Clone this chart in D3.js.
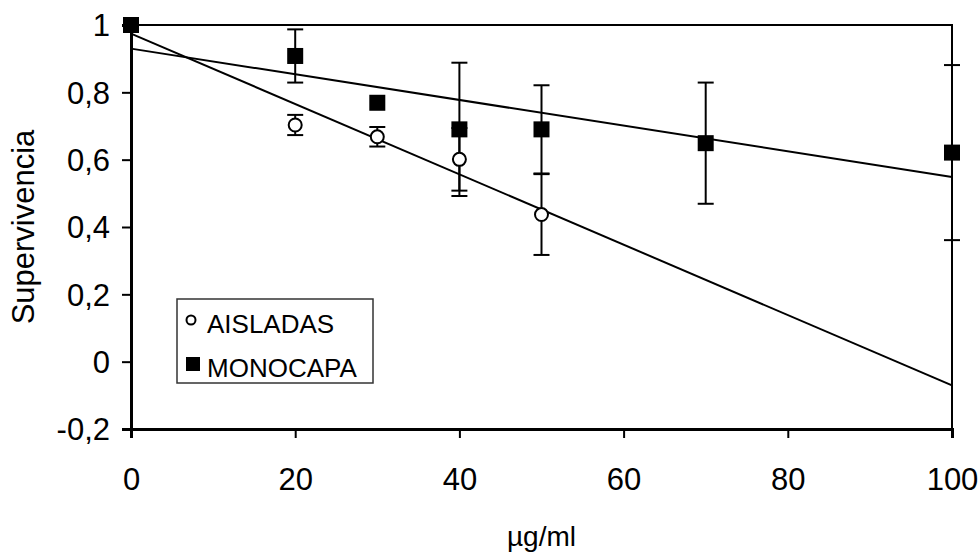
<!DOCTYPE html>
<html>
<head>
<meta charset="utf-8">
<script src="https://cdn.jsdelivr.net/npm/d3@7"></script>
<style>
  html, body { margin: 0; padding: 0; background: #fff; }
  svg { display: block; }
  text { font-family: "Liberation Sans", Arial, sans-serif; fill: #000; }
</style>
</head>
<body>
<svg id="chart" width="980" height="557"></svg>
<script>
// ---- data ----
const aisladasX = [0, 20, 30, 40, 50];
const aisladasY = [1, 0.703, 0.668, 0.601, 0.437];
const aisladasErr = [0, 0.03, 0.029, 0.093, 0.12];

const monocapaX = [0, 20, 30, 40, 50, 70, 100];
const monocapaY = [1, 0.908, 0.769, 0.69, 0.69, 0.649, 0.621];
const monocapaErr = [0, 0.079, 0, 0.198, 0.131, 0.18, 0.26];

const xTicks = [0, 20, 40, 60, 80, 100];
const yTicks = [-0.2, 0, 0.2, 0.4, 0.6, 0.8, 1];
const yTickLabels = ["-0,2", "0", "0,2", "0,4", "0,6", "0,8", "1"];
const seriesNames = ["AISLADAS", "MONOCAPA"];
const xTitle = "µg/ml";
const yTitle = "Supervivencia";

// ---- layout ----
const svg = d3.select("#chart");
const x = d3.scaleLinear().domain([0, 100]).range([131, 952]);
const y = d3.scaleLinear().domain([-0.2, 1]).range([429, 25]);

// frame (top / right)
svg.append("rect")
  .attr("x", x(0)).attr("y", y(1))
  .attr("width", x(100) - x(0)).attr("height", y(-0.2) - y(1))
  .attr("fill", "none").attr("stroke", "#000").attr("stroke-width", 2);

// axes
const xAxis = svg.append("g").attr("transform", `translate(0,${y(-0.2)})`)
  .call(d3.axisBottom(x).tickValues(xTicks).tickSize(9).tickPadding(30).tickFormat(d3.format("d")));
const yAxis = svg.append("g").attr("transform", `translate(${x(0)},0)`)
  .call(d3.axisLeft(y).tickValues(yTicks).tickSize(9).tickPadding(12)
    .tickFormat((d, i) => yTickLabels[i]));
[xAxis, yAxis].forEach(g => {
  g.select(".domain").attr("stroke", "#000").attr("stroke-width", 3);
  g.selectAll(".tick line").attr("stroke", "#000").attr("stroke-width", 2);
  g.selectAll(".tick text").attr("font-size", 31).attr("fill", "#000")
    .style("font-family", '"Liberation Sans", Arial, sans-serif');
});
yAxis.selectAll(".tick text").attr("dy", "0.35em");
// -0.2 tick crosses the axis slightly
svg.append("line").attr("x1", x(0) - 9).attr("x2", x(0) + 4)
  .attr("y1", y(-0.2)).attr("y2", y(-0.2)).attr("stroke", "#000").attr("stroke-width", 2);

// titles
svg.append("text").attr("x", x(50)).attr("y", 546).attr("text-anchor", "middle")
  .attr("font-size", 28).text(xTitle);
svg.append("text").attr("transform", `translate(34,${(y(1) + y(-0.2)) / 2}) rotate(-90)`)
  .attr("text-anchor", "middle").attr("font-size", 31).text(yTitle);

// ---- error bars ----
function errorBars(xs, ys, es) {
  const g = svg.append("g").attr("stroke", "#000").attr("stroke-width", 2);
  xs.forEach((xv, i) => {
    if (!es[i]) return;
    const cx = x(xv), y1 = y(ys[i] + es[i]), y2 = y(ys[i] - es[i]);
    g.append("line").attr("x1", cx).attr("x2", cx).attr("y1", y1).attr("y2", y2);
    [y1, y2].forEach(yy => g.append("line").attr("x1", cx - 8).attr("x2", cx + 8)
      .attr("y1", yy).attr("y2", yy));
  });
}
errorBars(aisladasX, aisladasY, aisladasErr);
errorBars(monocapaX, monocapaY, monocapaErr);

// ---- linear trend lines (least squares) ----
function fit(xs, ys) {
  const mx = d3.mean(xs), my = d3.mean(ys);
  const sxy = d3.sum(xs, (v, i) => (v - mx) * (ys[i] - my));
  const sxx = d3.sum(xs, v => (v - mx) * (v - mx));
  const b = sxy / sxx;
  return { a: my - b * mx, b };
}
const line = d3.line().x(d => x(d[0])).y(d => y(d[1]));
[[aisladasX, aisladasY], [monocapaX, monocapaY]].forEach(([xs, ys]) => {
  const f = fit(xs, ys);
  svg.append("path")
    .attr("d", line([[0, f.a], [100, f.a + 100 * f.b]]))
    .attr("fill", "none").attr("stroke", "#000").attr("stroke-width", 2);
});

// ---- markers ----
svg.append("g").selectAll("circle").data(aisladasX).join("circle")
  .attr("cx", d => x(d)).attr("cy", (d, i) => y(aisladasY[i])).attr("r", 6.5)
  .attr("fill", "#fff").attr("stroke", "#000").attr("stroke-width", 2);
svg.append("g").selectAll("rect").data(monocapaX).join("rect")
  .attr("x", d => x(d) - 8).attr("y", (d, i) => y(monocapaY[i]) - 8)
  .attr("width", 16).attr("height", 16).attr("fill", "#000");

// ---- legend ----
const lg = svg.append("g");
lg.append("rect").attr("x", 177).attr("y", 299).attr("width", 196).attr("height", 84)
  .attr("fill", "#fff").attr("stroke", "#333").attr("stroke-width", 1.5);
lg.append("circle").attr("cx", 191).attr("cy", 320).attr("r", 4.5)
  .attr("fill", "#fff").attr("stroke", "#000").attr("stroke-width", 2);
lg.append("rect").attr("x", 186).attr("y", 357).attr("width", 14).attr("height", 14).attr("fill", "#000");
lg.append("text").attr("x", 207).attr("y", 333).attr("font-size", 26).text(seriesNames[0]);
lg.append("text").attr("x", 207).attr("y", 377).attr("font-size", 26).text(seriesNames[1]);
</script>
</body>
</html>
